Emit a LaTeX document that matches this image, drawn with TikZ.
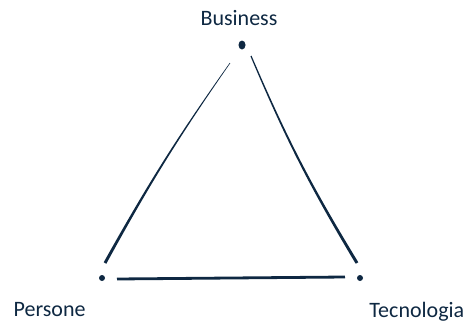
\documentclass[tikz,border=0pt]{standalone}
\usepackage{fontspec}
\setmainfont{Carlito}
\usetikzlibrary{positioning,shapes.geometric,calc}
\definecolor{trinavy}{RGB}{14,40,66}

\begin{document}
\begin{tikzpicture}[x=1pt, y=-1pt,
  dot/.style={circle, fill=trinavy, inner sep=0pt, minimum size=6pt},
  lbl/.style={inner sep=0pt, text=trinavy, font=\fontsize{22}{26}\selectfont},
  edge/.style={fill=trinavy}]
\useasboundingbox (0,0) rectangle (472,322);

% corners of the triangle
\node[dot, ellipse, minimum width=7pt, minimum height=9pt] (biz) at (242,45) {};
\node[dot] (per) at (102,278) {};
\node[dot] (tec) at (360,278) {};

\node[lbl, above=14pt of biz, xshift=-3pt] (bizlbl) {Business};
\node[lbl, below left=22pt and 14pt of per] (perlbl) {Persone};
\node[lbl, below right=22pt and 7pt of tec] (teclbl) {Tecnologia};

% free ends of the sides
\coordinate (l0) at ($(per)+(3,-15)$);
\coordinate (l1) at ($(biz)+(-12,18)$);
\coordinate (r0) at ($(biz)+(9,11)$);
\coordinate (r1) at ($(tec)+(-3,-15)$);
\coordinate (b0) at ($(per)+(15,1)$);
\coordinate (b1) at ($(tec)+(-15,-1)$);

% sides as tapered strokes, thick at the bottom
\fill[edge] ($(l0)!1.5pt!90:(l1)$) to[bend left=3] ($(l1)!0.3pt!-90:(l0)$)
  -- ($(l1)!0.3pt!90:(l0)$) to[bend right=3] ($(l0)!1.5pt!-90:(l1)$) -- cycle;
\fill[edge] ($(r1)!1.5pt!90:(r0)$) to[bend left=4] ($(r0)!0.6pt!-90:(r1)$)
  -- ($(r0)!0.6pt!90:(r1)$) to[bend right=4] ($(r1)!1.5pt!-90:(r0)$) -- cycle;
\draw[trinavy, line width=2.8pt] (b0) -- (b1);
\end{tikzpicture}
\end{document}
